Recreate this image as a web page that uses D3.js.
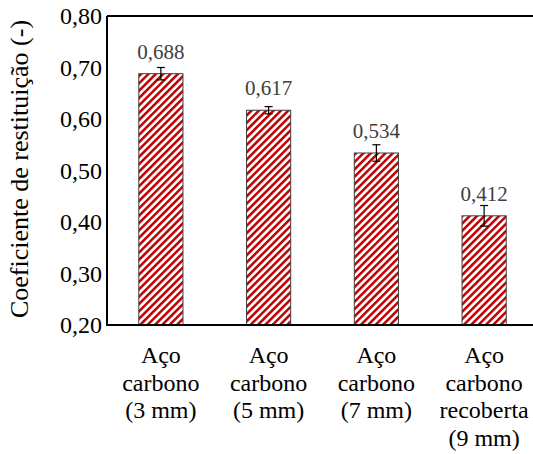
<!DOCTYPE html>
<html><head><meta charset="utf-8">
<script src="https://cdn.jsdelivr.net/npm/d3@7"></script>
<style>body{margin:0;background:#fff}svg{display:block}</style>
</head><body>
<script>
const categories = [["Aço","carbono","(3 mm)"],["Aço","carbono","(5 mm)"],["Aço","carbono","(7 mm)"],["Aço","carbono","recoberta","(9 mm)"]];
const values = [0.688, 0.617, 0.534, 0.412];
const errors = [0.012, 0.007, 0.016, 0.020];
const valueLabels = ["0,688","0,617","0,534","0,412"];
const yTicks = [0.20,0.30,0.40,0.50,0.60,0.70,0.80];
const yTitle = "Coeficiente de restituição (-)";

const W=533,H=454;
const m={left:107,top:16,bottom:325};
const plotRight = 538;
const FONT="Liberation Serif";
const svg=d3.select("body").append("svg").attr("width",W).attr("height",H).attr("font-family",FONT);

const defs=svg.append("defs");
const P=5.2;
const pat=defs.append("pattern").attr("id","hatch").attr("patternUnits","userSpaceOnUse")
  .attr("width",P).attr("height",P).attr("patternTransform","rotate(45)");
pat.append("rect").attr("width",P).attr("height",P).attr("fill","#fff");
pat.append("rect").attr("width",2.5).attr("height",P).attr("fill","#c00000");

const x=d3.scaleBand().domain(d3.range(values.length)).range([m.left,plotRight]).paddingInner(0.59).paddingOuter(0.295);
const y=d3.scaleLinear().domain([0.2,0.8]).range([m.bottom,m.top]);

svg.append("line").attr("x1",m.left).attr("x2",W).attr("y1",m.top).attr("y2",m.top).attr("stroke","#000").attr("stroke-width",2);

svg.selectAll("rect.bar").data(values).join("rect").attr("class","bar")
  .attr("x",(d,i)=>x(i)).attr("width",x.bandwidth())
  .attr("y",d=>y(d)).attr("height",d=>y(0.2)-y(d))
  .attr("fill","url(#hatch)").attr("stroke","#404040").attr("stroke-width",1);

const eg=svg.append("g").attr("stroke","#000").attr("stroke-width",1.2);
values.forEach((v,i)=>{
  const cx=x(i)+x.bandwidth()/2;
  eg.append("line").attr("x1",cx).attr("x2",cx).attr("y1",y(v+errors[i])).attr("y2",y(v-errors[i]));
  eg.append("line").attr("x1",cx-4).attr("x2",cx+4).attr("y1",y(v+errors[i])).attr("y2",y(v+errors[i]));
  eg.append("line").attr("x1",cx-4).attr("x2",cx+4).attr("y1",y(v-errors[i])).attr("y2",y(v-errors[i]));
});

svg.selectAll("text.val").data(values).join("text").attr("class","val")
  .attr("x",(d,i)=>x(i)+x.bandwidth()/2).attr("y",d=>y(d)-15)
  .attr("text-anchor","middle").attr("font-family",FONT).attr("font-size",21).attr("fill","#404040")
  .text((d,i)=>valueLabels[i]);

const yAxis=svg.append("g").attr("transform",`translate(${m.left},0)`)
  .call(d3.axisLeft(y).tickValues(yTicks).tickSize(0).tickPadding(5).tickFormat(d=>d3.format(".2f")(d).replace(".",",")));
yAxis.attr("font-family",FONT);
yAxis.select(".domain").attr("stroke","#000").attr("stroke-width",2).attr("d",`M0,${m.top}V${m.bottom}`);
yAxis.selectAll("text").attr("font-family",FONT).attr("font-size",24).attr("fill","#000");

const xAxis=svg.append("g").attr("transform",`translate(0,${m.bottom})`)
  .call(d3.axisBottom(x).tickSize(0).tickFormat(""));
xAxis.select(".domain").attr("stroke","#000").attr("stroke-width",2).attr("d",`M${m.left-1},0H${W}`);

categories.forEach((lines,i)=>{
  const t=svg.append("text").attr("text-anchor","middle").attr("font-family",FONT).attr("font-size",24).attr("fill","#000");
  lines.forEach((l,j)=>t.append("tspan").attr("x",x(i)+x.bandwidth()/2).attr("y",363+j*27.7).text(l));
});

svg.append("text").attr("transform","translate(28,169) rotate(-90)").attr("text-anchor","middle")
  .attr("font-family",FONT).attr("font-size",26).attr("fill","#000").text(yTitle);
</script>
</body></html>
